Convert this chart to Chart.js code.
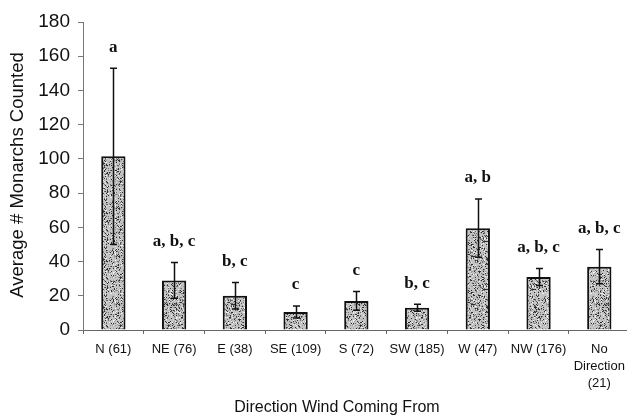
<!DOCTYPE html>
<html>
<head>
<meta charset="utf-8">
<script src="https://cdn.jsdelivr.net/npm/chart.js@4/dist/chart.umd.min.js"></script>
<style>
  html, body { margin: 0; padding: 0; background: #fff; overflow: hidden; }
  #wrap { width: 632px; height: 418px; }
</style>
</head>
<body>
<div id="wrap"><canvas id="c" width="632" height="418"></canvas></div>
<script>
// Wind direction (number of counts) on the category axis
const categories = ['N (61)', 'NE (76)', 'E (38)', 'SE (109)', 'S (72)', 'SW (185)', 'W (47)', 'NW (176)', ['No', 'Direction', '(21)']];
// Mean monarchs counted per direction
const means = [101.5, 29, 20, 10.5, 17, 13, 59.5, 31, 37];
// Half-length of each error bar
const errors = [51.5, 10.5, 7.8, 3.5, 5.5, 2, 17, 5, 10];
// Significance groupings printed above the bars
const groups = ['a', 'a, b, c', 'b, c', 'c', 'c', 'b, c', 'a, b', 'a, b, c', 'a, b, c'];
// Y axis ticks
const yTicks = [0, 20, 40, 60, 80, 100, 120, 140, 160, 180];

const yTitle = 'Average # Monarchs Counted';
const xTitle = 'Direction Wind Coming From';

// Stippled grey fill for the bars
function makeStipple() {
  const s = 48;
  const p = document.createElement('canvas');
  p.width = s; p.height = s;
  const g = p.getContext('2d');
  g.fillStyle = '#c4c4c4';
  g.fillRect(0, 0, s, s);
  let h = 2166136261;
  const next = () => { h ^= h << 13; h ^= h >>> 17; h ^= h << 5; return (h >>> 0) / 4294967296; };
  for (let i = 0; i < 1100; i++) {
    const x = Math.floor(next() * s), y = Math.floor(next() * s);
    const t = next();
    g.fillStyle = t < 0.3 ? '#2e2e2e' : t < 0.55 ? '#6e6e6e' : t < 0.8 ? '#9c9c9c' : '#efefef';
    g.fillRect(x, y, 1, 1);
  }
  return g.createPattern(p, 'repeat');
}

const errorBars = {
  id: 'errorBars',
  afterDatasetsDraw(chart) {
    const ctx = chart.ctx;
    const meta = chart.getDatasetMeta(0);
    const ys = chart.scales.y;
    ctx.save();
    ctx.strokeStyle = '#111';
    ctx.lineWidth = 1.5;
    meta.data.forEach((bar, i) => {
      const x = Math.round(bar.x) + 0.5;
      const top = ys.getPixelForValue(means[i] + errors[i]);
      const bot = ys.getPixelForValue(means[i] - errors[i]);
      ctx.beginPath();
      ctx.moveTo(x, top); ctx.lineTo(x, bot);
      ctx.moveTo(x - 3.5, top); ctx.lineTo(x + 3.5, top);
      ctx.moveTo(x - 3.5, bot); ctx.lineTo(x + 3.5, bot);
      ctx.stroke();
      // grouping letters
      ctx.fillStyle = '#111';
      ctx.font = 'bold 17px "Liberation Serif", "Times New Roman", serif';
      ctx.textAlign = 'center';
      ctx.textBaseline = 'middle';
      ctx.fillText(groups[i], bar.x, top - 21);
    });
    ctx.restore();
  }
};

const axisTitles = {
  id: 'axisTitles',
  afterDraw(chart) {
    const ctx = chart.ctx;
    ctx.save();
    ctx.fillStyle = '#111';
    ctx.textAlign = 'center';
    ctx.textBaseline = 'middle';
    ctx.font = '16px "Liberation Sans", Arial, sans-serif';
    ctx.fillText(xTitle, 337, 408);
    ctx.font = '18.5px "Liberation Sans", Arial, sans-serif';
    ctx.translate(18, 175);
    ctx.rotate(-Math.PI / 2);
    ctx.fillText(yTitle, 0, 0);
    ctx.restore();
  }
};

new Chart(document.getElementById('c'), {
  type: 'bar',
  data: {
    labels: categories,
    datasets: [{
      data: means,
      backgroundColor: makeStipple(),
      borderColor: '#111',
      borderWidth: 2,
      barPercentage: 0.4,
      categoryPercentage: 1
    }]
  },
  options: {
    responsive: false,
    animation: false,
    layout: { padding: { top: 22, right: 1, left: 0, bottom: 0 } },
    plugins: { legend: { display: false }, tooltip: { enabled: false } },
    scales: {
      x: {
        grid: { display: true, drawOnChartArea: false, offset: true, tickLength: 4, color: '#666', lineWidth: 1 },
        border: { display: true, color: '#666', width: 1 },
        ticks: {
          color: '#111',
          font: { family: '"Liberation Sans", Arial, sans-serif', size: 13, lineHeight: 1.3 },
          padding: 7,
          maxRotation: 0,
          autoSkip: false
        },
        afterFit(scale) { scale.height = 88; }
      },
      y: {
        min: 0, max: 180,
        afterBuildTicks(scale) { scale.ticks = yTicks.map(v => ({ value: v })); },
        grid: { display: true, drawOnChartArea: false, tickLength: 5, color: '#777', lineWidth: 1 },
        border: { display: true, color: '#777', width: 1, dash: [3, 2] },
        ticks: {
          color: '#111',
          font: { family: '"Liberation Sans", Arial, sans-serif', size: 19 },
          padding: 8
        },
        afterFit(scale) { scale.width = 83; }
      }
    }
  },
  plugins: [errorBars, axisTitles]
});
</script>
</body>
</html>
